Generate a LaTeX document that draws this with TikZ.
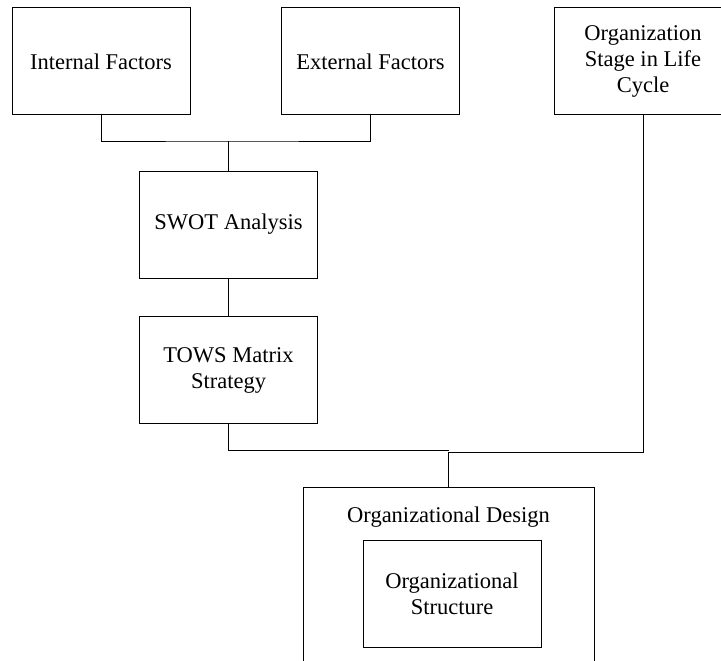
\documentclass[tikz,border=0pt]{standalone}
\usepackage{fontspec}
\setmainfont{Liberation Serif}
\usepackage{tikz}

\begin{document}
\begin{tikzpicture}[x=1pt, y=-1pt, line width=1pt,
  every node/.style={font=\fontsize{22.5}{26}\selectfont, align=center, inner sep=0pt},
  box/.style={draw, minimum width=178pt, minimum height=107pt}]
\clip (0,0) rectangle (721,661);

\node[box] (int) at (101,61.5) {Internal Factors};
\node[box] (ext) at (370.5,61.5) {External Factors};
\node[box] (stage) at (643,61.5) {Organization\\Stage in Life\\Cycle};
\node[box] (swot) at (228.5,224.5) {SWOT Analysis};
\node[box] (tows) at (228.5,370) {TOWS Matrix\\Strategy};
\node[draw, minimum width=291pt, minimum height=260pt] (design) at (448.5,617) {};
\node (designtxt) at (448.5,517) {Organizational Design};
\node[box] (struct) at (452,593.5) {Organizational\\Structure};

\coordinate (top) at (228.5,141);
\coordinate (joinL) at (448.5,450);
\coordinate (joinR) at (448.5,452);

\draw (int.south) |- (top) -| (ext.south);
\draw (top) -- (swot.north);
\draw (swot) -- (tows);
\draw (tows.south) |- (joinL);
\draw (stage.south) |- (joinR) -- (design.north);
\end{tikzpicture}
\end{document}
